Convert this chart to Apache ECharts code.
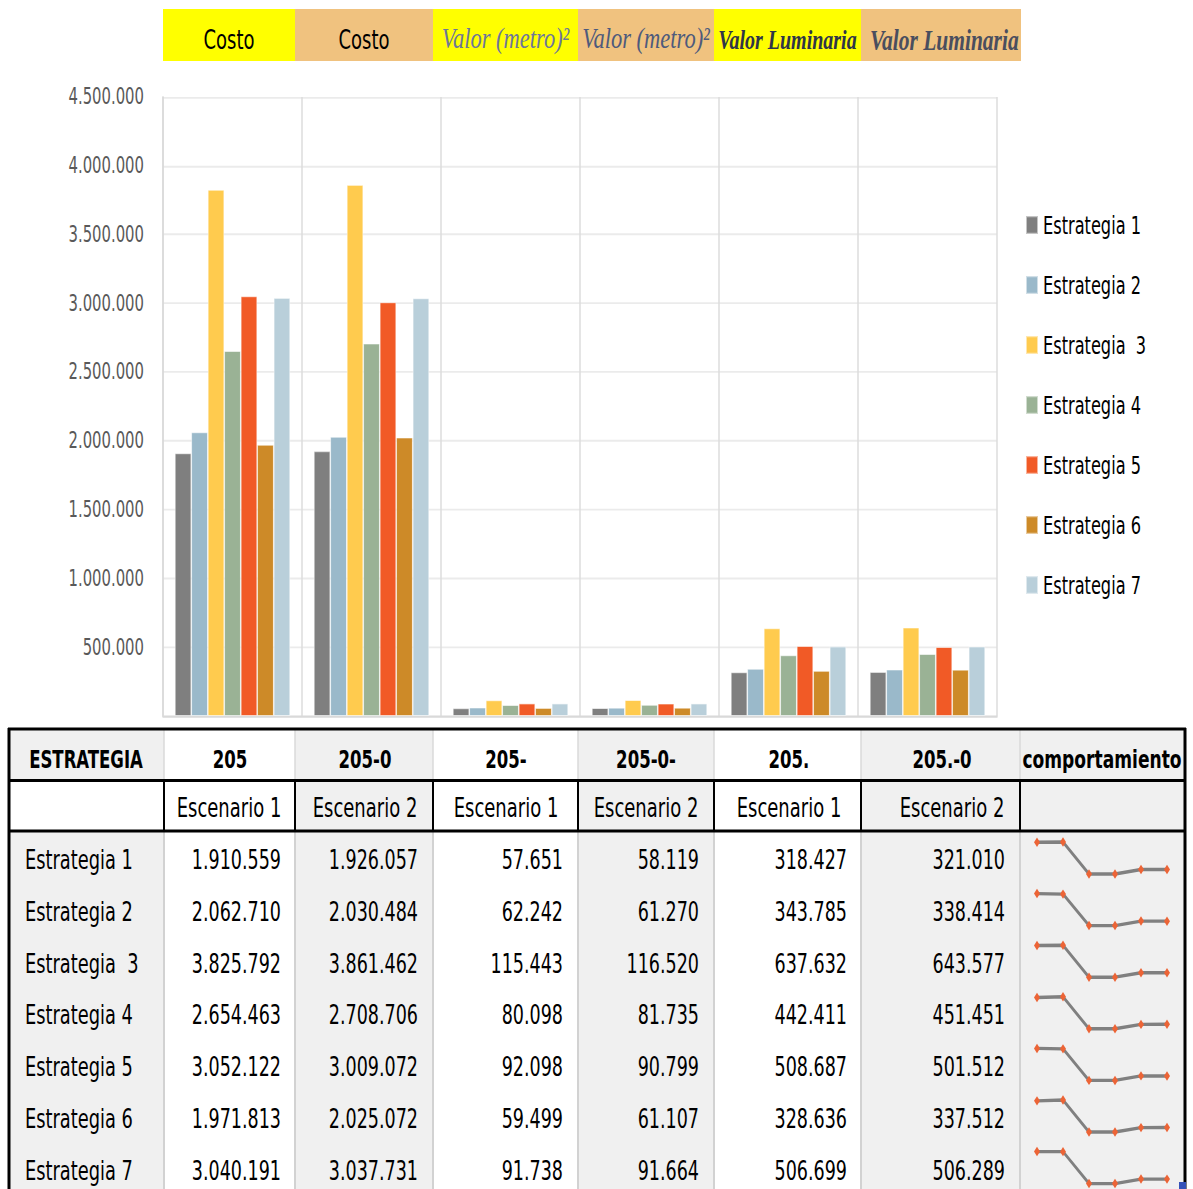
<!DOCTYPE html>
<html>
<head>
<meta charset="utf-8">
<script src="https://cdn.jsdelivr.net/npm/echarts@6/dist/echarts.min.js"></script>
<style>
  html, body { margin: 0; padding: 0; background: #ffffff; }
  body { width: 1193px; height: 1189px; }
  /* the sheet is drawn with condensed-looking type: draw in a shorter box, then stretch vertically */
  #chart { width: 1193px; transform-origin: 0 0; }
</style>
</head>
<body>
<div id="chart"></div>
<script>
// ---- data ----
const columns   = ['205', '205-0', '205-', '205-0-', '205.', '205.-0'];
const metrics   = ['Costo', 'Costo', 'Valor (metro)²', 'Valor (metro)²', 'Valor Luminaria', 'Valor Luminaria'];
const scenarios = ['Escenario 1', 'Escenario 2', 'Escenario 1', 'Escenario 2', 'Escenario 1', 'Escenario 2'];
const strategies = ['Estrategia 1', 'Estrategia 2', 'Estrategia  3', 'Estrategia 4', 'Estrategia 5', 'Estrategia 6', 'Estrategia 7'];

const estrategia1 = [1910559, 1926057, 57651, 58119, 318427, 321010];
const estrategia2 = [2062710, 2030484, 62242, 61270, 343785, 338414];
const estrategia3 = [3825792, 3861462, 115443, 116520, 637632, 643577];
const estrategia4 = [2654463, 2708706, 80098, 81735, 442411, 451451];
const estrategia5 = [3052122, 3009072, 92098, 90799, 508687, 501512];
const estrategia6 = [1971813, 2025072, 59499, 61107, 328636, 337512];
const estrategia7 = [3040191, 3037731, 91738, 91664, 506699, 506289];
const seriesValues = [estrategia1, estrategia2, estrategia3, estrategia4, estrategia5, estrategia6, estrategia7];

const axisMin = 0, axisMax = 4500000, axisStep = 500000;

// ---- page geometry ----
const PAGE_H = 1189;
const S = 1.35;                       // vertical stretch of the whole sheet
const Y = v => v / S;                 // page y -> drawing y
const el = document.getElementById('chart');
el.style.height = (PAGE_H / S) + 'px';
el.style.transform = 'scaleY(' + S + ')';

// ---- styling ----
const FONT = '"DejaVu Sans Condensed", "Liberation Sans", sans-serif';
const SERIF = '"Liberation Serif", "DejaVu Serif", serif';
const palette = ['#7f7f7f', '#9ab9ca', '#ffcb4e', '#9ab295', '#f15a26', '#cd8a28', '#b9cfda'];
const GRAY_CELL = '#f0f0f0';

const fmt = n => String(n).replace(/\B(?=(\d{3})+(?!\d))/g, '.');

// table geometry (page pixels)
const colEdges = [8, 164, 295, 433, 578, 714, 861, 1020, 1185];
const headCenters = [86, 230, 365, 506, 646, 789, 942, 1102];
const scenCenters = [229, 365, 506, 646, 789, 952];
const numRight = [281, 418, 563, 699, 847, 1005];
const rowY0 = 860, rowStep = 51.8;
const sparkTop0 = 842, sparkStep = 51.6, sparkH = 32;
const grayCol = [true, false, true, false, true, false, true, true];

const g = [];
const rect = (x, y, w, h, fill, z) => g.push({ type: 'rect', shape: { x, y: Y(y), width: w, height: Y(h) }, style: { fill }, z: z || 0 });
const hline = (x1, x2, y, stroke, w, z) => g.push({ type: 'line', shape: { x1, y1: Y(y), x2, y2: Y(y) }, style: { stroke, lineWidth: w / S }, z: z || 1 });
const vline = (x, y1, y2, stroke, w, z) => g.push({ type: 'line', shape: { x1: x, y1: Y(y1), x2: x, y2: Y(y2) }, style: { stroke, lineWidth: w }, z: z || 1 });
const text = (t, x, y, align, style) => g.push({
  type: 'text', x, y: Y(y), z: 4,
  style: Object.assign({ text: t, textAlign: align, textVerticalAlign: 'middle', fill: '#000000', fontFamily: FONT }, style)
});

// caption strip above the chart
const stripEdges = [163, 295, 433, 578, 714, 861, 1021];
const stripFill = ['#ffff00', '#f0c27f', '#ffff00', '#f0c27f', '#ffff00', '#f0c27f'];
metrics.forEach((m, i) => {
  const x0 = stripEdges[i], x1 = stripEdges[i + 1];
  rect(x0, 9, x1 - x0, 52, stripFill[i]);
  if (i < 2) {
    text(m, (x0 + x1) / 2, 40, 'center', { fontSize: 20 });
  } else if (i < 4) {
    text(m, (x0 + x1) / 2, 38, 'center', { fontFamily: SERIF, fontStyle: 'italic', fontSize: 22.5,
      fill: i === 2 ? '#6d769b' : '#4e5a7c' });
  } else if (i === 4) {
    text(m, (x0 + x1) / 2, 40, 'center', { fontFamily: SERIF, fontStyle: 'italic', fontWeight: 'bold', fontSize: 20,
      fill: '#2f3548' });
  } else {
    text(m, x0 + 9, 40, 'left', { fontFamily: SERIF, fontStyle: 'italic', fontWeight: 'bold', fontSize: 21.5,
      fill: '#4a4e5e' });
  }
});

// table backgrounds
for (let c = 0; c < 8; c++) {
  const x0 = colEdges[c], x1 = colEdges[c + 1];
  const fill = grayCol[c] ? GRAY_CELL : '#ffffff';
  rect(x0, 730, x1 - x0, 50, fill);
  rect(x0, 781, x1 - x0, 50, c === 0 ? '#ffffff' : fill);
  rect(x0, 832, x1 - x0, 357, fill);
}
// column dividers
for (let c = 1; c < 8; c++) {
  const x = colEdges[c];
  vline(x, 730, 779, '#dadada', 1.5, 1);
  vline(x, 832, 1189, '#d2d2d2', 2, 1);
  vline(x, 780, 831, '#000000', 2, 2);
}
// heavy rules and outer frame
[729, 780.5, 831].forEach(y => hline(8, 1186, y, '#000000', 3, 3));
vline(9, 728, 1189, '#000000', 3, 3);
vline(1185, 728, 1189, '#000000', 3, 3);
rect(1179, 1182, 7, 7, '#3552b8', 4);

// header texts
['ESTRATEGIA'].concat(columns, ['comportamiento']).forEach((t, i) => {
  text(t, headCenters[i], 759, 'center', { fontWeight: 'bold', fontSize: t === 'comportamiento' ? 19 : 18.4 });
});
scenarios.forEach((t, i) => text(t, scenCenters[i], 808, 'center', { fontSize: 20 }));

// body texts
strategies.forEach((name, r) => {
  const cy = rowY0 + r * rowStep;
  text(name, 25, cy, 'left', { fontSize: 19.8 });
  seriesValues[r].forEach((v, c) => text(fmt(v), numRight[c], cy, 'right', { fontSize: 19.5 }));
});

// ---- grids: main chart + one small trend line per strategy ----
const grids = [{ left: 163, top: Y(97), width: 834, height: Y(619) }];
const xAxes = [{
  type: 'category', gridIndex: 0, data: columns,
  axisLabel: { show: false }, axisTick: { show: false },
  axisLine: { show: true, lineStyle: { color: '#d9d9d9', width: 1.5 } },
  splitLine: { show: true, interval: 0, lineStyle: { color: '#dcdcdc', width: 1.5 } }
}];
const yAxes = [{
  type: 'value', gridIndex: 0, min: axisMin, max: axisMax, interval: axisStep,
  axisLine: { show: true, lineStyle: { color: '#d9d9d9', width: 1.5 } },
  axisTick: { show: false },
  axisLabel: { formatter: v => fmt(v), color: '#595959', fontFamily: FONT, fontSize: 16.5, margin: 19, showMinLabel: false },
  splitLine: { lineStyle: { color: '#ebebeb', width: 1.4 } }
}];
const series = [];
strategies.forEach((name, i) => {
  series.push({
    name, type: 'bar', xAxisIndex: 0, yAxisIndex: 0, data: seriesValues[i],
    barGap: '0%', barCategoryGap: '17%',
    itemStyle: { color: palette[i], borderColor: 'rgba(255,255,255,0.55)', borderWidth: 0.8 }
  });
});
strategies.forEach((name, i) => {
  const gi = i + 1;
  grids.push({ left: 1037, width: 130, top: Y(sparkTop0 + i * sparkStep), height: Y(sparkH) });
  xAxes.push({ type: 'category', gridIndex: gi, data: columns, boundaryGap: false, show: false });
  yAxes.push({ type: 'value', gridIndex: gi, show: false, scale: true, min: v => v.min, max: v => v.max });
  series.push({
    name: name + ' tendencia', type: 'line', xAxisIndex: gi, yAxisIndex: gi, data: seriesValues[i],
    clip: false, symbol: 'diamond', symbolSize: [6, 7], showSymbol: true,
    lineStyle: { color: '#808080', width: 2.5 },
    itemStyle: { color: '#ec6436' }, z: 5
  });
});

const chart = echarts.init(el, null, { renderer: 'svg' });
chart.setOption({
  animation: false,
  backgroundColor: '#ffffff',
  grid: grids,
  xAxis: xAxes,
  yAxis: yAxes,
  legend: {
    data: strategies, orient: 'vertical', left: 1025, top: Y(225) - 9, padding: 0,
    itemWidth: 12, itemHeight: Y(18), itemGap: Y(60) - 18, icon: 'rect',
    textStyle: { color: '#000000', fontFamily: FONT, fontSize: 18, lineHeight: 18 }
  },
  tooltip: { show: false },
  series,
  graphic: { elements: g }
});
</script>
</body>
</html>
